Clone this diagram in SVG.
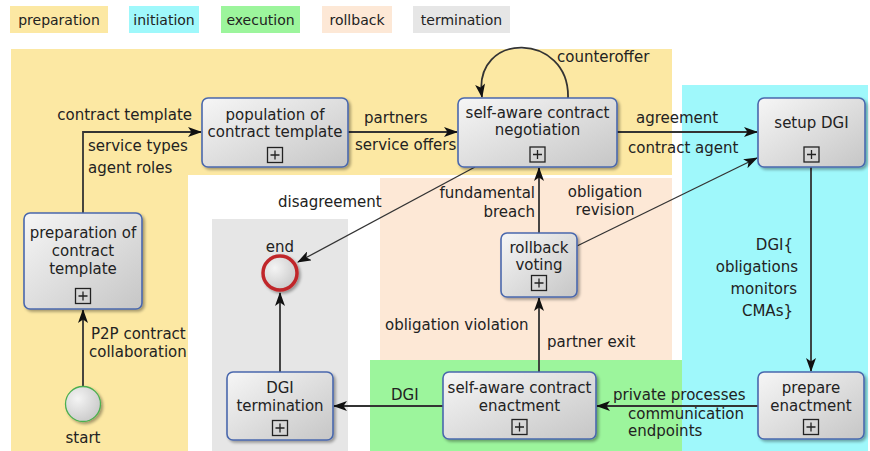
<svg xmlns="http://www.w3.org/2000/svg" width="870" height="451" viewBox="0 0 870 451">
  <defs>
    <linearGradient id="nodeFill" x1="0" y1="0" x2="1" y2="1">
      <stop offset="0" stop-color="#f6f6f6"/>
      <stop offset="1" stop-color="#c6c6c6"/>
    </linearGradient>
    <radialGradient id="eventFill" cx="0.35" cy="0.35" r="0.8">
      <stop offset="0" stop-color="#f4f4f4"/>
      <stop offset="1" stop-color="#c4c4c4"/>
    </radialGradient>
    <filter id="shadow" x="-10%" y="-10%" width="130%" height="130%">
      <feGaussianBlur in="SourceAlpha" stdDeviation="1.5"/>
      <feOffset dx="1.5" dy="1.5" result="b"/>
      <feComponentTransfer><feFuncA type="linear" slope="0.35"/></feComponentTransfer>
      <feMerge><feMergeNode/><feMergeNode in="SourceGraphic"/></feMerge>
    </filter>
    <marker id="arrow" viewBox="0 0 14 10" refX="13" refY="5" markerWidth="14" markerHeight="10" markerUnits="userSpaceOnUse" orient="auto">
      <path d="M0,0 L14,5 L0,10 L3.5,5 Z" fill="#111"/>
    </marker>
    <g id="plus">
      <rect x="-7.5" y="-7.5" width="15" height="15" fill="none" stroke="#222" stroke-width="1.3"/>
      <path d="M-4.5,0 H4.5 M0,-4.5 V4.5" stroke="#222" stroke-width="1.3"/>
    </g>
  </defs>
  <style>
    text { font-family: "DejaVu Sans", "Liberation Sans", sans-serif; font-size: 15px; fill: #222; }
    .legend { font-size: 14px; text-anchor: middle; }
    .mid { text-anchor: middle; }
    .end { text-anchor: end; }
    .task { fill: url(#nodeFill); stroke: #4a68ad; stroke-width: 1.6; filter: url(#shadow); }
    .edge { fill: none; stroke: #333; stroke-width: 1.8; marker-end: url(#arrow); }
    .thin { stroke-width: 1.3; }
  </style>

  <rect width="870" height="451" fill="#ffffff"/>

  <!-- legend -->
  <g id="legend">
    <rect x="10" y="6" width="98" height="27" fill="#fce8a3"/>
    <rect x="129" y="6" width="70" height="27" fill="#9ff8fb"/>
    <rect x="221" y="6" width="79" height="27" fill="#9cf59c"/>
    <rect x="322" y="6" width="70" height="27" fill="#fde8d6"/>
    <rect x="413" y="6" width="97" height="27" fill="#e6e6e6"/>
    <text class="legend" x="59" y="25">preparation</text>
    <text class="legend" x="164" y="25">initiation</text>
    <text class="legend" x="260.5" y="25">execution</text>
    <text class="legend" x="357" y="25">rollback</text>
    <text class="legend" x="461.5" y="25">termination</text>
  </g>

  <!-- phase areas -->
  <g id="phases">
    <path d="M11,49 H672 V175 H188 V451 H11 Z" fill="#fce8a3"/>
    <rect x="682" y="85" width="186" height="366" fill="#9ff8fb"/>
    <rect x="380" y="178" width="292" height="182" fill="#fde8d6"/>
    <rect x="370" y="360" width="312" height="91" fill="#9cf59c"/>
    <rect x="212" y="219" width="136" height="232" fill="#e6e6e6"/>
  </g>

  <!-- connectors -->
  <g id="connectors">
    <path class="edge" d="M83,386 V310"/>
    <path class="edge" d="M83,213 V132 H201"/>
    <path class="edge" d="M348,132 H457"/>
    <path class="edge" d="M617,132 H757"/>
    <path class="edge" d="M568,98 C570,32 472,30 482,97"/>
    <path class="edge thin" d="M475,167 L298,262"/>
    <path class="edge" d="M539,233 V168"/>
    <path class="edge thin" d="M577,246 L757,158"/>
    <path class="edge" d="M811,167 V371"/>
    <path class="edge" d="M758,406 H597"/>
    <path class="edge" d="M539,372 V298"/>
    <path class="edge" d="M443,406 H334"/>
    <path class="edge" d="M280,372 V293"/>
  </g>

  <!-- connector labels -->
  <g id="edge-labels">
    <text class="end" x="192" y="120">contract template</text>
    <text x="88" y="151">service types</text>
    <text x="88" y="173">agent roles</text>
    <text x="364" y="123">partners</text>
    <text x="355" y="150">service offers</text>
    <text x="557" y="62">counteroffer</text>
    <text x="636" y="123">agreement</text>
    <text x="628" y="153">contract agent</text>
    <text x="278" y="207">disagreement</text>
    <text class="end" x="535" y="198">fundamental</text>
    <text class="end" x="535" y="217">breach</text>
    <text class="mid" x="605" y="197">obligation</text>
    <text class="mid" x="605" y="215">revision</text>
    <text class="end" x="793" y="250">DGI{</text>
    <text class="end" x="798" y="272">obligations</text>
    <text class="end" x="797" y="294">monitors</text>
    <text class="end" x="793" y="316">CMAs}</text>
    <text x="385" y="330">obligation violation</text>
    <text x="547" y="347">partner exit</text>
    <text x="391" y="400">DGI</text>
    <text x="613" y="400">private processes</text>
    <text x="628" y="419">communication</text>
    <text x="628" y="436">endpoints</text>
    <text x="91" y="339">P2P contract</text>
    <text x="89" y="357">collaboration</text>
  </g>

  <!-- events -->
  <g id="start">
    <circle cx="83" cy="404" r="17.5" fill="url(#eventFill)" stroke="#4caf50" stroke-width="1.3" filter="url(#shadow)"/>
    <text class="mid" x="83" y="443">start</text>
  </g>
  <g id="end">
    <circle cx="280" cy="273" r="17" fill="url(#eventFill)" stroke="#c0282a" stroke-width="3.5" filter="url(#shadow)"/>
    <text class="mid" x="280" y="252">end</text>
  </g>

  <!-- tasks -->
  <g id="preparation-of-contract-template">
    <rect class="task" x="24" y="213" width="118" height="96" rx="6"/>
    <text class="mid" x="83" y="238">preparation of</text>
    <text class="mid" x="83" y="256">contract</text>
    <text class="mid" x="83" y="274">template</text>
    <use href="#plus" x="83" y="296"/>
  </g>
  <g id="population-of-contract-template">
    <rect class="task" x="202" y="98" width="146" height="69" rx="6"/>
    <text class="mid" x="275" y="120">population of</text>
    <text class="mid" x="275" y="137">contract template</text>
    <use href="#plus" x="275" y="155"/>
  </g>
  <g id="self-aware-contract-negotiation">
    <rect class="task" x="458" y="98" width="159" height="69" rx="6"/>
    <text class="mid" x="537.5" y="118">self-aware contract</text>
    <text class="mid" x="537.5" y="135">negotiation</text>
    <use href="#plus" x="537.5" y="154.5"/>
  </g>
  <g id="setup-dgi">
    <rect class="task" x="758" y="98" width="107" height="69" rx="6"/>
    <text class="mid" x="811.5" y="128">setup DGI</text>
    <use href="#plus" x="811.5" y="154.5"/>
  </g>
  <g id="rollback-voting">
    <rect class="task" x="501" y="233" width="76" height="64" rx="6"/>
    <text class="mid" x="539" y="253">rollback</text>
    <text class="mid" x="539" y="270">voting</text>
    <use href="#plus" x="539" y="283"/>
  </g>
  <g id="self-aware-contract-enactment">
    <rect class="task" x="443" y="372" width="153" height="67" rx="6"/>
    <text class="mid" x="519.5" y="393">self-aware contract</text>
    <text class="mid" x="519.5" y="411">enactment</text>
    <use href="#plus" x="519.5" y="427"/>
  </g>
  <g id="prepare-enactment">
    <rect class="task" x="758" y="372" width="106" height="67" rx="6"/>
    <text class="mid" x="811" y="393">prepare</text>
    <text class="mid" x="811" y="411">enactment</text>
    <use href="#plus" x="811" y="427"/>
  </g>
  <g id="dgi-termination">
    <rect class="task" x="227" y="372" width="106" height="68" rx="6"/>
    <text class="mid" x="280" y="393">DGI</text>
    <text class="mid" x="280" y="411">termination</text>
    <use href="#plus" x="280" y="428"/>
  </g>
</svg>
